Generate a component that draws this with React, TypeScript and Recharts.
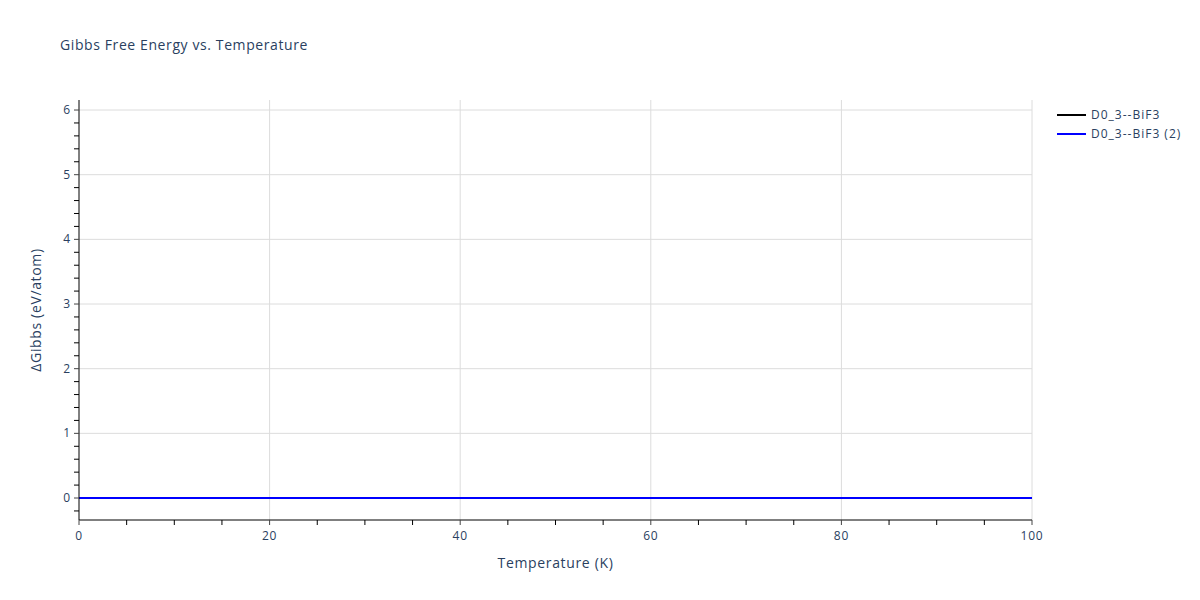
import { Label, Line, LineChart, ReferenceLine, XAxis, YAxis } from "recharts";

const temperatures = [0, 10, 20, 30, 40, 50, 60, 70, 80, 90, 100];
const gibbsSeries1 = [0, 0, 0, 0, 0, 0, 0, 0, 0, 0, 0];
const gibbsSeries2 = [0, 0, 0, 0, 0, 0, 0, 0, 0, 0, 0];
const seriesNames = ["D0_3--BiF3", "D0_3--BiF3 (2)"];
const seriesColors = ["#000000", "#0000ff"];

const xTicks = [0, 5, 10, 15, 20, 25, 30, 35, 40, 45, 50, 55, 60, 65, 70, 75, 80, 85, 90, 95, 100];
const xMajor = [0, 20, 40, 60, 80, 100];
const yTicks = [
  -0.2, 0, 0.2, 0.4, 0.6, 0.8, 1, 1.2, 1.4, 1.6, 1.8, 2, 2.2, 2.4, 2.6, 2.8, 3, 3.2, 3.4, 3.6, 3.8, 4,
  4.2, 4.4, 4.6, 4.8, 5, 5.2, 5.4, 5.6, 5.8, 6,
];
const yMajor = [0, 1, 2, 3, 4, 5, 6];

const data = temperatures.map((t, i) => ({ t, s1: gibbsSeries1[i], s2: gibbsSeries2[i] }));

const FONT = '"Open Sans", verdana, arial, sans-serif';
const TEXT = "#2a3f5f";
const GRID = "#dcdcdc";

function XTick(props: any) {
  const { x, y, payload } = props;
  const major = xMajor.includes(payload.value);
  return (
    <g>
      <line x1={x} x2={x} y1={y} y2={y + 5} stroke={major ? "#444" : "#000"} />
      {major && (
        <text x={x} y={y + 20} textAnchor="middle" fontSize={12} letterSpacing={0.8} fill={TEXT} fontFamily={FONT}>
          {payload.value}
        </text>
      )}
    </g>
  );
}

function YTick(props: any) {
  const { x, y, payload } = props;
  const v = Math.round(payload.value * 10) / 10;
  const major = yMajor.includes(v);
  return (
    <g>
      <line x1={x - 5} x2={x} y1={y} y2={y} stroke={major ? "#444" : "#000"} />
      {major && (
        <text x={x - 8} y={y + 4} textAnchor="end" fontSize={12} letterSpacing={0.8} fill={TEXT} fontFamily={FONT}>
          {v}
        </text>
      )}
    </g>
  );
}

function LegendBox() {
  return (
    <div
      style={{
        position: "absolute",
        left: 1056,
        top: 105,
        fontFamily: FONT,
        fontSize: 12,
        letterSpacing: 1,
        color: TEXT,
      }}
    >
      {seriesNames.map((name, i) => (
        <div key={name} style={{ display: "flex", alignItems: "center", height: 19 }}>
          <svg width={35} height={10}>
            <line x1={1} x2={30} y1={5} y2={5} stroke={seriesColors[i]} strokeWidth={2} />
          </svg>
          <span>{name}</span>
        </div>
      ))}
    </div>
  );
}

export default function App() {
  return (
    <div style={{ position: "absolute", left: 0, top: 0, width: 1200, height: 600, background: "#fff" }}>
      <div
        style={{
          position: "absolute",
          left: 60,
          top: 35,
          fontFamily: FONT,
          fontSize: 14,
          letterSpacing: 0.6,
          color: TEXT,
        }}
      >
        Gibbs Free Energy vs. Temperature
      </div>
      <LineChart
        width={1200}
        height={600}
        data={data}
        margin={{ top: 100, right: 168, left: 29, bottom: 30 }}
      >
        {xMajor.slice(1).map((v) => (
          <ReferenceLine key={"gx" + v} x={v} stroke={GRID} strokeWidth={1} />
        ))}
        {yMajor.slice(1).map((v) => (
          <ReferenceLine key={"gy" + v} y={v} stroke={GRID} strokeWidth={1} />
        ))}
        <XAxis
          dataKey="t"
          type="number"
          domain={[0, 100]}
          ticks={xTicks}
          interval={0}
          tickSize={0}
          tickMargin={0}
          tickLine={false}
          tick={<XTick />}
          height={50}
          axisLine={{ stroke: "#000", strokeWidth: 1 }}
          allowDataOverflow
        >
          <Label
            value="Temperature (K)"
            position="insideBottom"
            offset={2}
            style={{ fontFamily: FONT, fontSize: 14, letterSpacing: 0.65, fill: TEXT }}
          />
        </XAxis>
        <YAxis
          type="number"
          domain={[-0.34, 6.155]}
          ticks={yTicks}
          interval={0}
          tickSize={0}
          tickMargin={0}
          tickLine={false}
          tick={<YTick />}
          width={50}
          axisLine={{ stroke: "#000", strokeWidth: 1 }}
          allowDataOverflow
        >
          <Label
            content={(p: any) => {
              const vb = p.viewBox;
              const cx = 35;
              const cy = vb.y + vb.height / 2;
              return (
                <text
                  x={cx}
                  y={cy}
                  transform={`rotate(-90, ${cx}, ${cy})`}
                  textAnchor="middle"
                  dominantBaseline="central"
                  fontSize={14}
                  letterSpacing={0.65}
                  fill={TEXT}
                  fontFamily={FONT}
                >
                  ΔGibbs (eV/atom)
                </text>
              );
            }}
          />
        </YAxis>
        <Line
          dataKey="s1"
          name={seriesNames[0]}
          stroke={seriesColors[0]}
          strokeWidth={2}
          dot={false}
          isAnimationActive={false}
        />
        <Line
          dataKey="s2"
          name={seriesNames[1]}
          stroke={seriesColors[1]}
          strokeWidth={2}
          dot={false}
          isAnimationActive={false}
        />
      </LineChart>
      <LegendBox />
    </div>
  );
}
